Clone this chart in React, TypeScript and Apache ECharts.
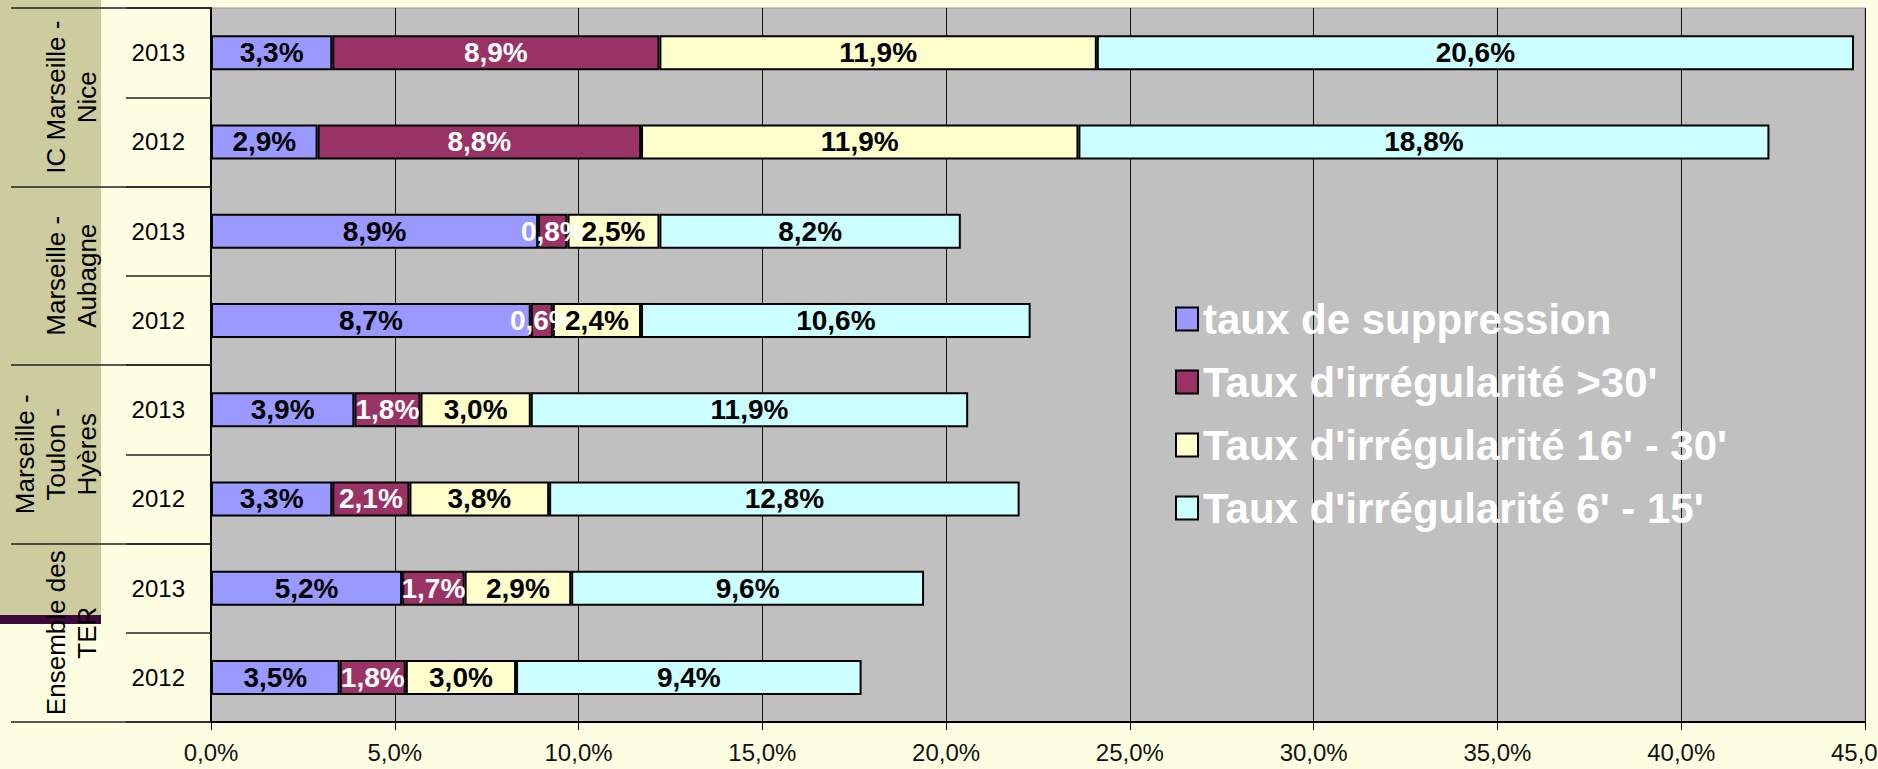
import React, { useEffect, useRef } from "react";
import * as echarts from "echarts";

const yearLabels = ["2013", "2012", "2013", "2012", "2013", "2012", "2013", "2012"];
const groupLabels = [
  "IC Marseille -\nNice",
  "Marseille -\nAubagne",
  "Marseille -\nToulon -\nHyères",
  "Ensemble des\nTER",
];
const seriesNames = [
  "taux de suppression",
  "Taux d'irrégularité >30'",
  "Taux d'irrégularité 16' - 30'",
  "Taux d'irrégularité 6' - 15'",
];
const suppression = [3.3, 2.9, 8.9, 8.7, 3.9, 3.3, 5.2, 3.5];
const irreg30 = [8.9, 8.8, 0.8, 0.6, 1.8, 2.1, 1.7, 1.8];
const irreg16_30 = [11.9, 11.9, 2.5, 2.4, 3.0, 3.8, 2.9, 3.0];
const irreg6_15 = [20.6, 18.8, 8.2, 10.6, 11.9, 12.8, 9.6, 9.4];
const seriesColors = ["#9999FF", "#993366", "#FFFFCC", "#CCFFFF"];
const labelColors = ["#000000", "#FFFFFF", "#000000", "#000000"];

const FONT = "'Liberation Sans', Arial, sans-serif";
const fmt = (v: number) => v.toFixed(1).replace(".", ",") + "%";

export default function App() {
  const ref = useRef<HTMLDivElement>(null);
  useEffect(() => {
    if (!ref.current) return;
    const chart = echarts.init(ref.current, null, { renderer: "svg" });
    const data = [suppression, irreg30, irreg16_30, irreg6_15];
    chart.setOption({
      animation: false,
      backgroundColor: "#FEFEE3",
      textStyle: { fontFamily: FONT },
      graphic: [
        {
          type: "rect",
          z: -10,
          shape: { x: 0, y: 0, width: 101, height: 620 },
          style: { fill: "#CCCC9E" },
        },
        {
          type: "rect",
          z: -5,
          shape: { x: 0, y: 615, width: 101, height: 9 },
          style: { fill: "#3E0A3C" },
        },
      ],
      grid: {
        left: 211,
        right: 13,
        top: 8,
        bottom: 47,
        outerBoundsMode: "none",
        containLabel: false,
        show: true,
        backgroundColor: "#C0C0C0",
        borderColor: "#8E8E8E",
        borderWidth: 1,
      },
      legend: {
        orient: "vertical",
        left: 1175,
        top: 298,
        padding: 0,
        itemWidth: 22,
        itemHeight: 23,
        itemGap: 21,
        icon: "rect",
        data: seriesNames,
        textStyle: {
          color: "#FFFFFF",
          fontSize: 42,
          fontWeight: "bold",
          fontFamily: FONT,
          lineHeight: 40,
        },
      },
      xAxis: {
        type: "value",
        min: 0,
        max: 45,
        interval: 5,
        axisLine: { show: true, lineStyle: { color: "#000", width: 2 } },
        axisTick: { show: true, length: 8, lineStyle: { color: "#000", width: 1 } },
        splitLine: { show: true, lineStyle: { color: "#111", width: 1 } },
        axisLabel: {
          color: "#111",
          fontSize: 24,
          margin: 18,
          fontFamily: FONT,
          formatter: (v: number) => v.toFixed(1).replace(".", ",") + "%",
        },
      },
      yAxis: [
        {
          type: "category",
          data: yearLabels,
          inverse: true,
          axisLine: { show: true, lineStyle: { color: "#000", width: 2 } },
          axisTick: { show: true, length: 85, interval: 0, lineStyle: { color: "#222", width: 1.5 } },
          axisLabel: { color: "#000", fontSize: 24, margin: 26, interval: 0, fontFamily: FONT },
        },
        {
          type: "category",
          data: groupLabels,
          inverse: true,
          position: "left",
          axisLine: { show: false },
          axisTick: { show: true, length: 200, interval: 0, lineStyle: { color: "#222", width: 1.5 } },
          axisLabel: {
            color: "#000",
            fontSize: 26,
            lineHeight: 31,
            rotate: 90,
            margin: 109,
            interval: 0,
            fontFamily: FONT,
          },
        },
      ],
      series: data.map((d, i) => ({
        name: seriesNames[i],
        type: "bar",
        stack: "total",
        yAxisIndex: 0,
        barWidth: 35,
        data: d,
        itemStyle: { color: seriesColors[i], borderColor: "#000", borderWidth: 2 },
        label: {
          show: true,
          position: "inside",
          color: labelColors[i],
          fontSize: 28,
          fontWeight: "bold",
          fontFamily: FONT,
          formatter: (p: any) => fmt(p.value),
        },
      })),
    });
    return () => chart.dispose();
  }, []);
  return (
    <div
      ref={ref}
      style={{ position: "fixed", left: 0, top: 0, width: 1878, height: 769 }}
    />
  );
}
